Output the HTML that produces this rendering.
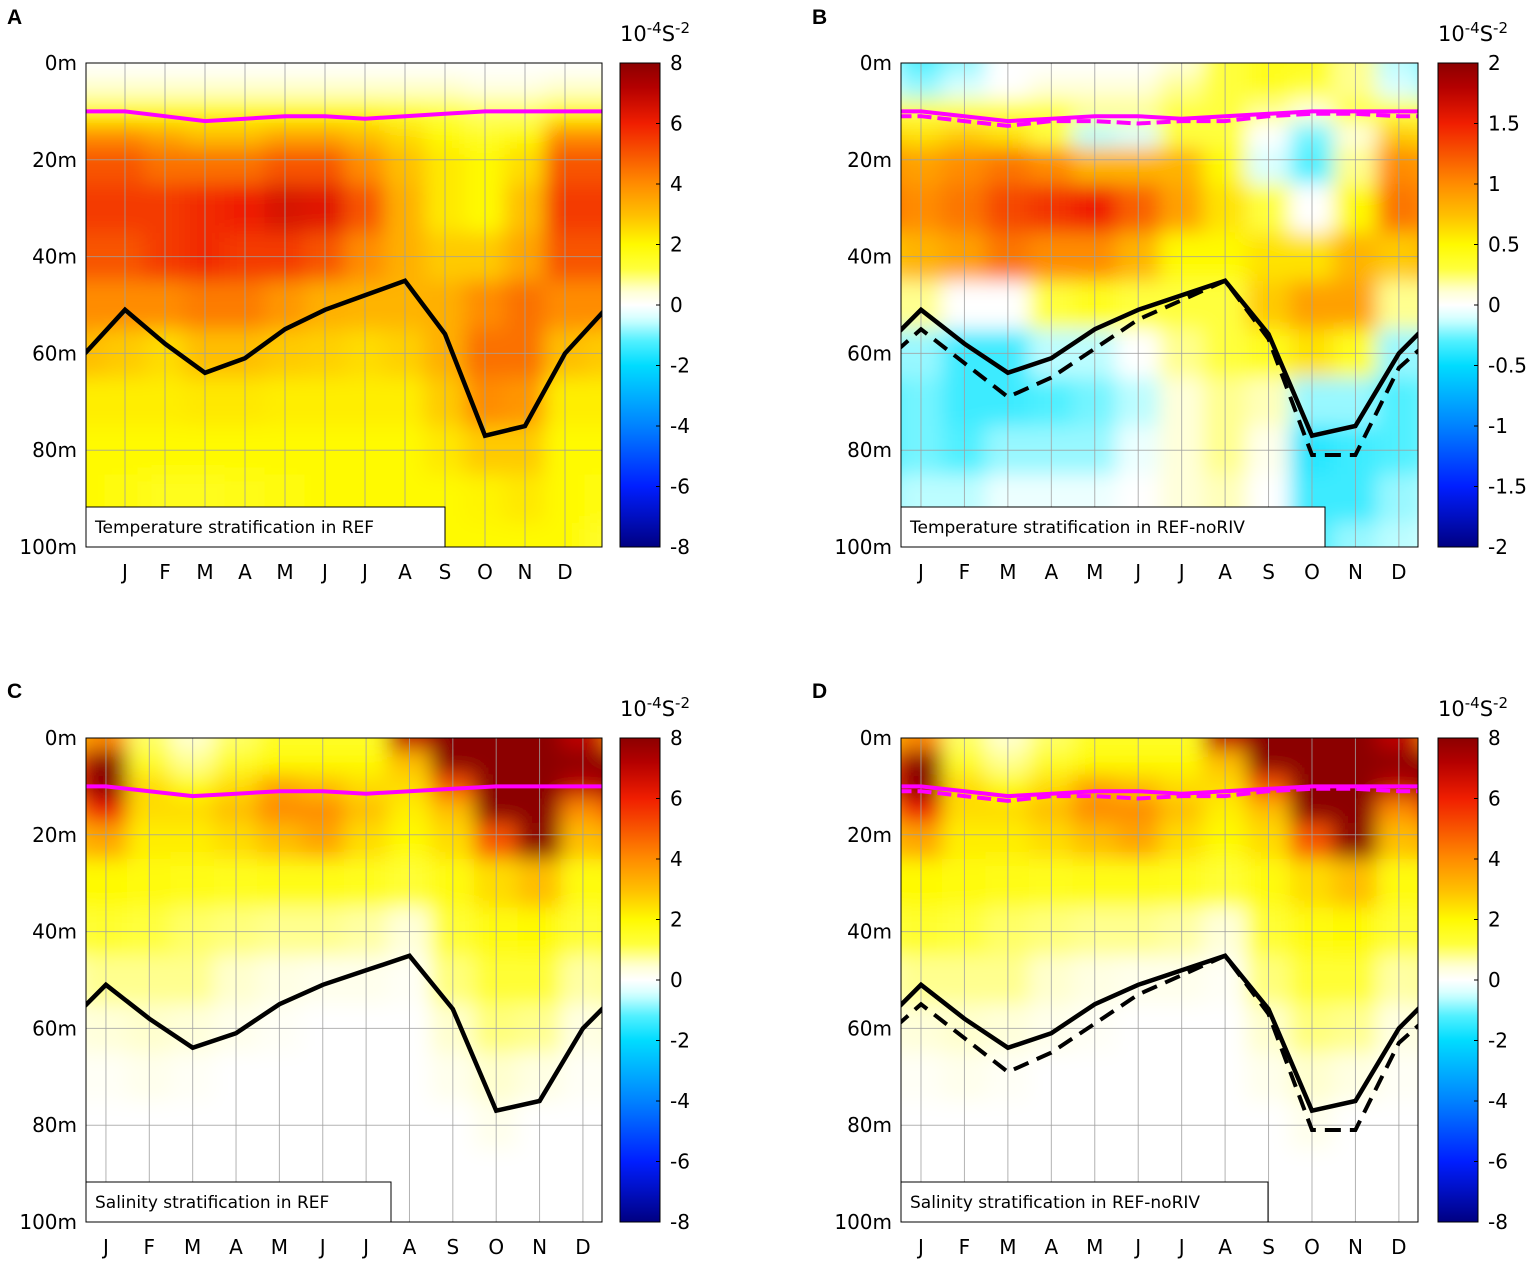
<!DOCTYPE html>
<html><head><meta charset="utf-8">
<style>
html,body{margin:0;padding:0;background:#fff;}
svg{display:block;font-family:"DejaVu Sans","Liberation Sans",sans-serif;}
</style></head>
<body>
<svg id="fig" width="1535" height="1261" viewBox="0 0 1535 1261" xmlns="http://www.w3.org/2000/svg">
<defs>
<filter id="blur" x="-20%" y="-20%" width="140%" height="140%"><feGaussianBlur stdDeviation="10"/></filter>
</defs>
</svg>
<script>
// ---- data ----
const depths = [0,5,10,15,20,30,40,50,60,70,80,90,100];
const monthLabels = ["J","F","M","A","M","J","J","A","S","O","N","D"];
const depthTicks = [0,20,40,60,80,100];
// columns: month 0 (Dec wrap) .. 13 (Jan wrap)
const fieldA = [
[0,0.5,2,4,5,5.5,5,4,3,2.2,2,2,2],
[0,0.5,2,4,5,5.5,5,4,2.8,2.2,2,1.8,1.5],
[0,0.5,2,3.5,4.5,5.5,5.5,4,2.5,2.2,2,1.6,1.2],
[0,0.5,2,3,4.5,5.8,5.8,4.3,3,2.3,2,1.6,1.2],
[0,0.5,2,3,4.5,6,5.5,4.3,3,2.3,2,1.7,1.4],
[0,0.5,2,3.5,5,6.5,5.5,3.8,2.8,2.2,2,1.9,1.7],
[0,0.5,2,3.5,5,6.3,5,3.3,2.7,2.2,2,2,2],
[0,0.5,2,3,4,5,4,3.2,2.5,2.2,2,2,2],
[0,0.5,1.5,2.5,3,3.3,3.3,3.2,2.7,2.2,2,2,2],
[0,0.5,1.2,2,2.3,2.3,2.8,3.3,3.3,2.8,2.3,2,2],
[0,0.3,1,1.5,2,2,2.8,4,4.5,4,2.8,2.1,2],
[0,0.3,1,2,2.5,3,3.5,4.5,4.5,3.8,2.8,2.3,2],
[0,0.5,2,4,5,5.5,5,4,3,2.2,2,2,2],
[0,0.5,2,4,5,5.5,5,4,2.8,2.2,2,1.8,1.5]];
const fieldB = [
[-0.15,-0.1,0.3,0.7,1.0,1.1,0.7,0.2,-0.2,-0.3,-0.3,-0.2,-0.15],
[-0.3,-0.2,0.3,0.6,0.9,1.0,0.8,0.2,-0.2,-0.25,-0.25,-0.15,-0.1],
[-0.2,-0.1,0.3,0.7,1.0,1.1,0.9,0,-0.35,-0.35,-0.3,-0.15,-0.05],
[0,0,0.3,0.6,1.1,1.3,1.1,0,-0.35,-0.35,-0.2,-0.05,0],
[0,0.1,0.3,0.3,1.0,1.4,1.0,0.3,-0.15,-0.3,-0.2,-0.05,0],
[0,0.1,0.2,-0.15,0.8,1.5,1.0,0.4,-0.15,-0.25,-0.2,-0.05,0],
[0,0.1,0.2,-0.1,0.8,1.2,0.8,0.3,0,-0.15,-0.05,0,0],
[0.1,0.2,0.3,0.3,0.8,0.9,0.5,0.3,0.2,0.1,0.1,0.1,0.1],
[0.3,0.3,0.3,0.3,0.5,0.6,0.5,0.3,0.3,0.2,0.2,0.15,0.15],
[0.4,0.4,0.2,0,-0.1,0.3,0.6,0.7,0.4,0.15,0.05,0,0],
[0.4,0.3,0.1,-0.25,-0.3,0,0.6,0.9,0.6,-0.2,-0.4,-0.35,-0.3],
[0.2,0.2,0.3,0.1,0.2,0.5,0.8,0.9,0.4,-0.2,-0.35,-0.35,-0.2],
[-0.15,-0.1,0.3,0.7,1.0,1.1,0.7,0.2,-0.2,-0.3,-0.3,-0.2,-0.15],
[-0.3,-0.2,0.3,0.6,0.9,1.0,0.8,0.2,-0.2,-0.25,-0.25,-0.15,-0.1]];
const fieldC = [
[3,5,6,4,3,1.8,1.2,0.6,0.3,0.1,0,0,0],
[4,8,8,6,3.5,2,1.4,0.8,0.4,0.1,0,0,0],
[1,1.5,2.5,2.5,2.2,1.8,1.2,0.8,0.5,0.2,0,0,0],
[0.5,0.8,2,2.5,2.2,1.7,1,0.8,0.4,0.1,0,0,0],
[1,1.5,2.5,3,2.5,1.6,0.9,0.5,0.2,0,0,0,0],
[1.5,2,3.5,4,3,1.7,0.8,0.3,0.1,0,0,0,0],
[1.5,2,3,4,3.5,1.7,0.8,0.2,0,0,0,0,0],
[1.5,2,2.5,3,2.5,1.6,0.7,0.2,0,0,0,0,0],
[7,3,2.5,2.2,2,1.3,0.4,0.1,0,0,0,0,0],
[9,8,5,3,2.5,1.8,1.3,0.9,0.5,0.2,0,0,0],
[9,9,9,9,5,2.5,1.8,1.3,0.9,0.5,0.2,0,0],
[9,9,9,9,8,3,2,1.3,0.8,0.3,0,0,0],
[7,8,7,4,3,1.8,1.3,0.7,0.3,0.1,0,0,0],
[4,8,8,6,3.5,2,1.4,0.8,0.4,0.1,0,0,0]];
const fieldD = [
[3,5,6,4,3,1.8,1.2,0.6,0.3,0.1,0,0,0],
[4,8,8,6,3.5,2,1.4,0.8,0.4,0.1,0,0,0],
[1,1.5,2.5,2.5,2.2,1.8,1.2,0.8,0.5,0.2,0,0,0],
[0.5,0.8,2,2.5,2.2,1.7,1,0.8,0.4,0.1,0,0,0],
[1,1.5,2.5,3,2.5,1.6,0.9,0.5,0.2,0,0,0,0],
[1.5,2,3.5,4,3,1.7,0.8,0.3,0.1,0,0,0,0],
[1.5,2,3,4,3.5,1.7,0.8,0.2,0,0,0,0,0],
[1.5,2,2.5,3,2.5,1.6,0.7,0.2,0,0,0,0,0],
[7,3,2.5,2.2,2,1.3,0.4,0.1,0,0,0,0,0],
[9,8,5,3,2.5,1.8,1.3,0.9,0.5,0.2,0,0,0],
[9,9,9,9,5,2.5,1.8,1.3,0.9,0.5,0.2,0,0],
[9,9,9,9,8,3,2,1.3,0.8,0.3,0,0,0],
[7,8,7,4,3,1.8,1.3,0.7,0.3,0.1,0,0,0],
[4,8,8,6,3.5,2,1.4,0.8,0.4,0.1,0,0,0]];
const mldRef = [60,51,58,64,61,55,51,48,45,56,77,75,60,51];
const mldNoRiv = [63,55,62,69,65,59,53,49,45,57,81,81,63,55];
const mlRef = [10,10,11,12,11.5,11,11,11.5,11,10.5,10,10,10,10];
const mlNoRiv = [11,11,12,13,12,12,12.5,12,12,11,10.5,10.5,11,11];
const cbTicksA = [8,6,4,2,0,-2,-4,-6,-8];
const cbTicksB = [2,1.5,1,0.5,0,-0.5,-1,-1.5,-2];

const NS="http://www.w3.org/2000/svg";
const svg=document.getElementById('fig');
function el(tag,attrs,parent){const e=document.createElementNS(NS,tag);for(const k in attrs)e.setAttribute(k,attrs[k]);(parent||svg).appendChild(e);return e;}

const stops=[[-1,0,0,130],[-0.75,0,30,255],[-0.5,0,130,255],[-0.25,0,220,255],[-0.15,80,240,255],[-0.06,210,255,255],[0,255,255,255],[0.06,255,255,210],[0.15,255,255,60],[0.25,255,250,0],[0.375,255,190,0],[0.5,255,140,0],[0.75,240,30,0],[0.9,180,0,0],[1,140,0,0]];
function cmap(t){t=Math.max(-1,Math.min(1,t));for(let i=1;i<stops.length;i++){if(t<=stops[i][0]){const a=stops[i-1],b=stops[i];const f=(t-a[0])/(b[0]-a[0]);return `rgb(${Math.round(a[1]+f*(b[1]-a[1]))},${Math.round(a[2]+f*(b[2]-a[2]))},${Math.round(a[3]+f*(b[3]-a[3]))})`;}}return 'rgb(140,0,0)';}

const panels=[
 {id:'a',letter:'A',lx:7,ly:24,x0:86,y0:63,w:516,h:484,m0:0.025,m1:12.925,field:fieldA,max:8,ticks:cbTicksA,cbx:620,legend:"Temperature stratification in REF",legW:359,dashed:false},
 {id:'b',letter:'B',lx:812,ly:24,x0:901,y0:63,w:517,h:484,m0:0.54,m1:12.44,field:fieldB,max:2,ticks:cbTicksB,cbx:1438,legend:"Temperature stratification in REF-noRIV",legW:424,dashed:true},
 {id:'c',letter:'C',lx:7,ly:698,x0:86,y0:738,w:516,h:484,m0:0.54,m1:12.44,field:fieldC,max:8,ticks:cbTicksA,cbx:620,legend:"Salinity stratification in REF",legW:305,dashed:false},
 {id:'d',letter:'D',lx:812,ly:698,x0:901,y0:738,w:517,h:484,m0:0.54,m1:12.44,field:fieldD,max:8,ticks:cbTicksA,cbx:1438,legend:"Salinity stratification in REF-noRIV",legW:367,dashed:true}
];

panels.forEach(p=>{
 const xs=m=>p.x0+(m-p.m0)/(p.m1-p.m0)*p.w;
 const ys=d=>p.y0+d/100*p.h;
 const g=el('g',{});
 
 
 const lt=el('text',{x:p.lx,y:p.ly,'font-size':21,'font-weight':'bold','font-family':'Liberation Sans, sans-serif'},g);lt.textContent=p.letter;
 
 
 const cp=el('clipPath',{id:'clip'+p.id},g);el('rect',{x:p.x0,y:p.y0,width:p.w,height:p.h},cp);
 const outer=el('g',{'clip-path':`url(#clip${p.id})`},g);
 const hm=el('g',{filter:'url(#blur)'},outer);
 
 
 p.field.forEach((col,i)=>{
  const xa=xs(i-0.5),xb=xs(i+0.5);
  col.forEach((v,j)=>{
   const da=j===0?-15:(depths[j-1]+depths[j])/2;
   const db=j===depths.length-1?115:(depths[j]+depths[j+1])/2;
   const r=el('rect',{x:xa-0.5,y:ys(da),width:xb-xa+1,height:ys(db)-ys(da)+0.5,fill:cmap(v/p.max)},hm);
   
   
  });
 });
 for(let m=1;m<=12;m++){el('line',{x1:xs(m),x2:xs(m),y1:p.y0,y2:p.y0+p.h,stroke:'#a0a0a0','stroke-width':1,opacity:0.8},outer);}
 depthTicks.forEach(d=>{el('line',{x1:p.x0,x2:p.x0+p.w,y1:ys(d),y2:ys(d),stroke:'#a0a0a0','stroke-width':1,opacity:0.8},outer);});
 const mk=(arr)=>arr.map((v,i)=>`${xs(i).toFixed(1)},${ys(v).toFixed(1)}`).join(' ');
 if(p.dashed){
  const l=el('polyline',{points:mk(mldNoRiv),fill:'none',stroke:'#000','stroke-width':4,'stroke-dasharray':'16 9'},outer);
  
  
  const m2=el('polyline',{points:mk(mlNoRiv),fill:'none',stroke:'#f0f','stroke-width':4,'stroke-dasharray':'14 6'},outer);
  
  
 }
 const l1=el('polyline',{points:mk(mldRef),fill:'none',stroke:'#000','stroke-width':4.5},outer);
 
 
 const m1=el('polyline',{points:mk(mlRef),fill:'none',stroke:'#f0f','stroke-width':4},outer);
 
 
 el('rect',{x:p.x0,y:p.y0,width:p.w,height:p.h,fill:'none',stroke:'#000','stroke-width':1},g);
 depthTicks.forEach(d=>{const t=el('text',{x:p.x0-9,y:ys(d)+7,'font-size':20,'text-anchor':'end'},g);t.textContent=d+'m';
  
  });
 monthLabels.forEach((ml,i)=>{const t=el('text',{x:xs(i+1),y:p.y0+p.h+32,'font-size':20,'text-anchor':'middle'},g);t.textContent=ml;
  
  });
 const lb=el('g',{},g);
 
 
 el('rect',{x:p.x0,y:p.y0+p.h-40,width:p.legW,height:40,fill:'#fff',stroke:'#000','stroke-width':1},lb);
 const ltx=el('text',{x:p.x0+9,y:p.y0+p.h-14,'font-size':17},lb);ltx.textContent=p.legend;
 const cb=el('g',{},g);
 
 
 const gid='grad'+p.id;
 const lg=el('linearGradient',{id:gid,x1:0,y1:0,x2:0,y2:1},cb);
 for(let k=0;k<=80;k++){const t=1-2*k/80;el('stop',{offset:(k/80),'stop-color':cmap(t)},lg);}
 el('rect',{x:p.cbx,y:p.y0,width:40,height:p.h,fill:`url(#${gid})`,stroke:'#000','stroke-width':1},cb);
 p.ticks.forEach(v=>{const y=p.y0+(p.max-v)/(2*p.max)*p.h;
  el('line',{x1:p.cbx+36,x2:p.cbx+40,y1:y,y2:y,stroke:'#000'},cb);
  const t=el('text',{x:p.cbx+50,y:y+7,'font-size':20},cb);t.textContent=v;
  
  });
 const ut=el('text',{x:p.cbx+35,y:p.y0-22,'font-size':21,'text-anchor':'middle'},cb);
 ut.innerHTML='10<tspan dy="-8" font-size="15">-4</tspan><tspan dy="8">S</tspan><tspan dy="-8" font-size="15">-2</tspan>';
 
 
});
</script>
</body></html>
